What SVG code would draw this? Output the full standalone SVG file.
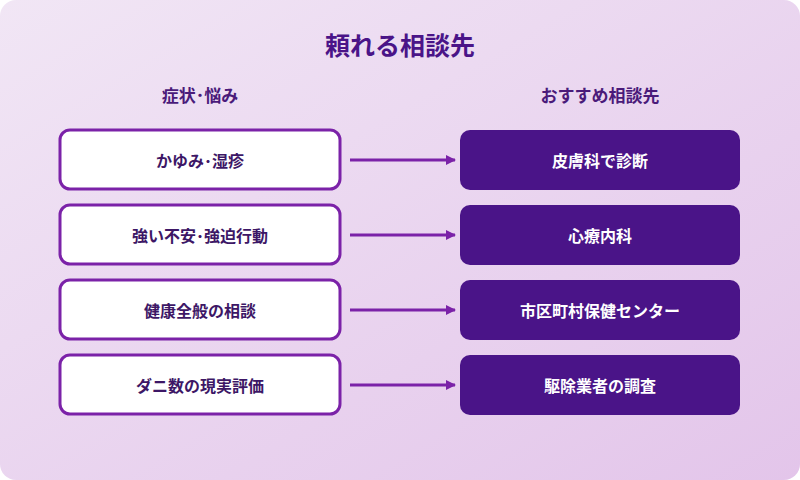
<svg xmlns="http://www.w3.org/2000/svg" width="800" height="480" viewBox="0 0 800 480">
<defs>
<linearGradient id="bg" x1="0" y1="0" x2="1" y2="1">
<stop offset="0" stop-color="#f1e6f5"/><stop offset="1" stop-color="#e3c5ea"/>
</linearGradient>
<marker id="ah" markerWidth="10" markerHeight="10" refX="9" refY="5" orient="auto" markerUnits="userSpaceOnUse">
<path d="M0,0 L10,5 L0,10 Z" fill="#7b22a8"/>
</marker>
<style>
text{font-family:"Noto Sans CJK JP","Noto Sans",sans-serif;font-weight:bold;text-anchor:middle;dominant-baseline:central}
.l rect{fill:#fff;stroke:#7b22a8;stroke-width:3}
.l text{fill:#3d1766;font-size:16px}
.r rect{fill:#4a1488}
.r text{fill:#fff;font-size:16px}
.h{fill:#4a1a7a;font-size:17px}
.c line{stroke:#7b22a8;stroke-width:3;marker-end:url(#ah)}
</style>
</defs>
<rect width="800" height="480" rx="16" fill="url(#bg)"/>
<text x="400" y="44" style="font-size:25px;fill:#4a1488">頼れる相談先</text>
<text class="h" x="200" y="94">症状･悩み</text>
<text class="h" x="600" y="94">おすすめ相談先</text>
<g id="l1" class="l"><rect x="60" y="130" width="280" height="59" rx="10"/><text x="200" y="160">かゆみ･湿疹</text></g>
<g id="l2" class="l"><rect x="60" y="205" width="280" height="59" rx="10"/><text x="200" y="235">強い不安･強迫行動</text></g>
<g id="l3" class="l"><rect x="60" y="280" width="280" height="59" rx="10"/><text x="200" y="310">健康全般の相談</text></g>
<g id="l4" class="l"><rect x="60" y="355" width="280" height="59" rx="10"/><text x="200" y="385">ダニ数の現実評価</text></g>
<g id="r1" class="r"><rect x="460" y="130" width="280" height="60" rx="10"/><text x="600" y="160">皮膚科で診断</text></g>
<g id="r2" class="r"><rect x="460" y="205" width="280" height="60" rx="10"/><text x="600" y="235">心療内科</text></g>
<g id="r3" class="r"><rect x="460" y="280" width="280" height="60" rx="10"/><text x="600" y="310">市区町村保健センター</text></g>
<g id="r4" class="r"><rect x="460" y="355" width="280" height="60" rx="10"/><text x="600" y="385">駆除業者の調査</text></g>
<g id="connectors" class="c">
<line x1="350" y1="160" x2="455" y2="160"/>
<line x1="350" y1="235" x2="455" y2="235"/>
<line x1="350" y1="310" x2="455" y2="310"/>
<line x1="350" y1="385" x2="455" y2="385"/>
</g>
</svg>
